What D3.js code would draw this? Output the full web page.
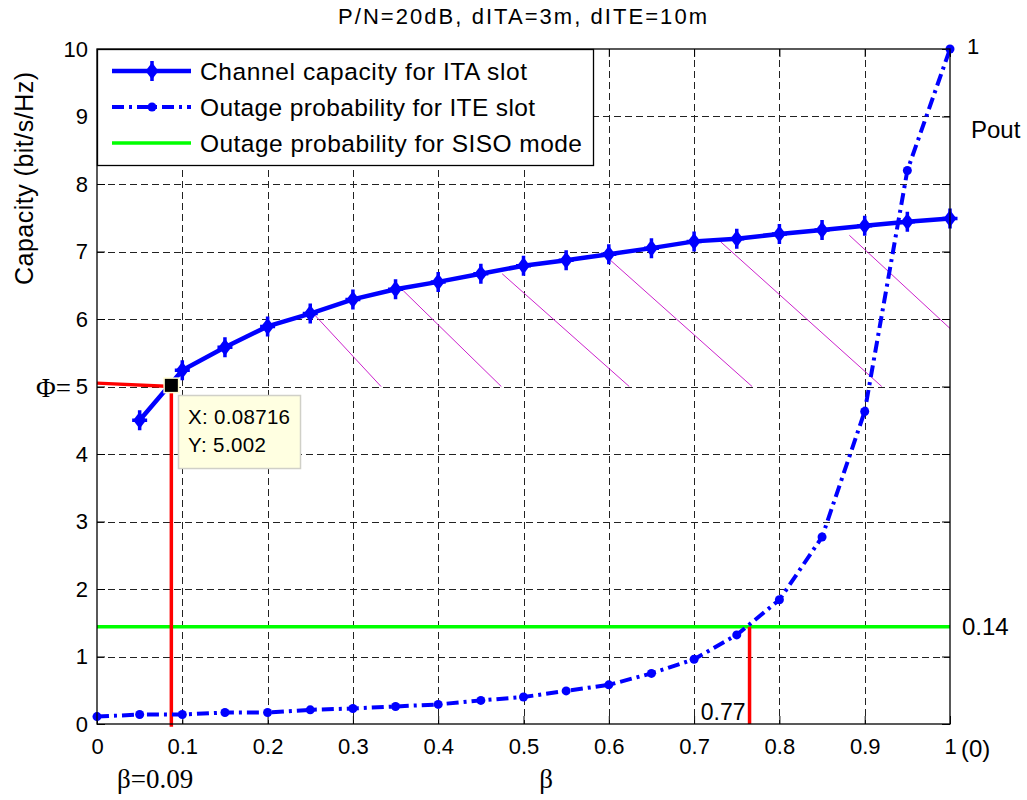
<!DOCTYPE html>
<html>
<head>
<meta charset="utf-8">
<script src="https://cdn.jsdelivr.net/npm/d3@7"></script>
<style>
  html, body { margin: 0; padding: 0; background: #fff; }
  svg { display: block; }
  text { font-family: "Liberation Sans", Arial, Helvetica, sans-serif; fill: #000; }
  .serif { font-family: "Liberation Serif", "Times New Roman", serif; }
</style>
</head>
<body>
<svg id="chart" width="1027" height="800"></svg>
<script>
// ---- data ----
const xTicks = [0, 0.1, 0.2, 0.3, 0.4, 0.5, 0.6, 0.7, 0.8, 0.9, 1];
const xTickLabels = ["0", "0.1", "0.2", "0.3", "0.4", "0.5", "0.6", "0.7", "0.8", "0.9", "1"];
const yTicks = [0, 1, 2, 3, 4, 5, 6, 7, 8, 9, 10];

// channel capacity in the ITA slot (bit/s/Hz)
const betaCap = [0.05, 0.1, 0.15, 0.2, 0.25, 0.3, 0.35, 0.4, 0.45, 0.5,
                 0.55, 0.6, 0.65, 0.7, 0.75, 0.8, 0.85, 0.9, 0.95, 1.0];
const capacity = [4.50, 5.24, 5.58, 5.89, 6.08, 6.29, 6.44, 6.55, 6.67, 6.79,
                  6.87, 6.96, 7.05, 7.15, 7.19, 7.26, 7.32, 7.38, 7.44, 7.49];

// outage probability in the ITE slot (right scale, 0..1)
const betaOut = [0, 0.05, 0.1, 0.15, 0.2, 0.25, 0.3, 0.35, 0.4, 0.45, 0.5,
                 0.55, 0.6, 0.65, 0.7, 0.75, 0.8, 0.85, 0.9, 0.95, 1.0];
const pout = [0.011, 0.014, 0.014, 0.017, 0.017, 0.021, 0.023, 0.026, 0.029, 0.035, 0.040,
              0.049, 0.058, 0.075, 0.096, 0.132, 0.184, 0.277, 0.463, 0.820, 1.0];

// outage probability for SISO mode
const poutSISO = 0.144;

// capacity threshold and the corresponding beta values
const phi = 5;
const tipX = 0.08716, tipY = 5.002;
const betaCross = 0.765;

// hatch segments (beta, capacity) start -> end
const hatchStartBeta = [0.253, 0.359, 0.475, 0.602, 0.731, 0.882];
const hatchStartCap  = [6.09, 6.42, 6.67, 6.87, 7.145, 7.24];
const hatchEndBeta   = [0.333, 0.474, 0.624, 0.768, 0.920, 1.0];
const hatchEndCap    = [5.0, 5.0, 5.0, 5.0, 5.0, 5.86];

const legendLabels = ["Channel capacity for ITA slot",
                      "Outage probability for ITE slot",
                      "Outage probability for SISO mode"];

// ---- layout ----
const svg = d3.select("#chart");
const L = 97, R = 950, T = 49, B = 724;
const x = d3.scaleLinear().domain([0, 1]).range([L, R]);
const y = d3.scaleLinear().domain([0, 10]).range([B, T]);
const yR = d3.scaleLinear().domain([0, 1]).range([B, T]);

svg.append("rect").attr("width", 1027).attr("height", 800).attr("fill", "#fff");

// grid
const grid = svg.append("g").attr("stroke", "#222").attr("stroke-width", 1)
  .attr("stroke-dasharray", "7,4").attr("fill", "none");
grid.selectAll("line.gx").data(xTicks.slice(1, -1)).join("line")
  .attr("x1", d => Math.round(x(d)) + 0.5).attr("x2", d => Math.round(x(d)) + 0.5)
  .attr("y1", T).attr("y2", B);
grid.selectAll("line.gy").data(yTicks.slice(1, -1)).join("line")
  .attr("y1", d => Math.round(y(d)) + 0.5).attr("y2", d => Math.round(y(d)) + 0.5)
  .attr("x1", L).attr("x2", R);

// axes
const fmt = (d) => xTickLabels[xTicks.indexOf(d)];
const axB = svg.append("g").attr("transform", `translate(0,${B})`)
  .call(d3.axisBottom(x).tickValues(xTicks).tickFormat(fmt).tickSizeInner(-8).tickSizeOuter(0).tickPadding(14));
const axT = svg.append("g").attr("transform", `translate(0,${T})`)
  .call(d3.axisTop(x).tickValues(xTicks).tickFormat("").tickSizeInner(-8).tickSizeOuter(0));
const axL = svg.append("g").attr("transform", `translate(${L},0)`)
  .call(d3.axisLeft(y).tickValues(yTicks).tickFormat(d3.format("d")).tickSizeInner(-8).tickSizeOuter(0).tickPadding(9));
const axR = svg.append("g").attr("transform", `translate(${R},0)`)
  .call(d3.axisRight(y).tickValues(yTicks).tickFormat("").tickSizeInner(-8).tickSizeOuter(0));
[axB, axT, axL, axR].forEach(g => {
  g.select(".domain").remove();
  g.selectAll("line").attr("stroke", "#000").attr("stroke-width", 1);
  g.selectAll("text").attr("font-size", 22).attr("fill", "#000")
    .attr("font-family", '"Liberation Sans", Arial, sans-serif');
});

// hatch lines
svg.append("g").selectAll("line").data(hatchStartBeta).join("line")
  .attr("x1", (d, i) => x(d)).attr("y1", (d, i) => y(hatchStartCap[i]))
  .attr("x2", (d, i) => x(hatchEndBeta[i])).attr("y2", (d, i) => y(hatchEndCap[i]))
  .attr("stroke", "#cc22cc").attr("stroke-width", 1);

// SISO outage level
svg.append("line").attr("x1", x(0)).attr("x2", x(1))
  .attr("y1", yR(poutSISO)).attr("y2", yR(poutSISO))
  .attr("stroke", "#00ff00").attr("stroke-width", 3.5);

// red guide lines
const red = svg.append("g").attr("stroke", "#ff0000").attr("stroke-width", 3.5).attr("fill", "none");
red.append("line").attr("x1", x(0)).attr("y1", y(phi + 0.05)).attr("x2", x(tipX)).attr("y2", y(phi));
red.append("line").attr("x1", x(tipX)).attr("y1", y(-0.04)).attr("x2", x(tipX)).attr("y2", y(phi));
red.append("line").attr("x1", x(betaCross)).attr("y1", yR(0)).attr("x2", x(betaCross)).attr("y2", yR(poutSISO));

// outage curve (dash-dot)
const outLine = d3.line().x((d, i) => x(betaOut[i])).y(d => yR(d));
svg.append("path").datum(pout).attr("d", outLine)
  .attr("fill", "none").attr("stroke", "#0000ff").attr("stroke-width", 4)
  .attr("stroke-dasharray", "12,5,3,5");
svg.append("g").selectAll("circle").data(pout).join("circle")
  .attr("cx", (d, i) => x(betaOut[i])).attr("cy", d => yR(d)).attr("r", 4.5)
  .attr("fill", "#0000ff");

// capacity curve
const capLine = d3.line().x((d, i) => x(betaCap[i])).y(d => y(d));
svg.append("path").datum(capacity).attr("d", capLine)
  .attr("fill", "none").attr("stroke", "#0000ff").attr("stroke-width", 4.5);

function capMarker(g, cx, cy) {
  const m = g.append("g").attr("transform", `translate(${cx},${cy})`);
  m.append("path").attr("d", "M0,-8.5L6.5,0L0,8.5L-6.5,0Z").attr("fill", "#0000ff");
  m.append("path").attr("d", "M0,-10V10M-7.5,0H7.5").attr("stroke", "#0000ff").attr("stroke-width", 3.5);
}
const capG = svg.append("g");
capacity.forEach((d, i) => capMarker(capG, x(betaCap[i]), y(d)));

// frame
svg.append("rect").attr("x", L).attr("y", T).attr("width", R - L).attr("height", B - T)
  .attr("fill", "none").attr("stroke", "#000").attr("stroke-width", 1.3);

// legend
const lg = svg.append("g");
lg.append("rect").attr("x", L + 0.5).attr("y", T + 0.5).attr("width", 496).attr("height", 116)
  .attr("fill", "#fff").attr("stroke", "#000").attr("stroke-width", 1.3);
const rowY = [71, 107, 143];
lg.append("line").attr("x1", 112).attr("x2", 191).attr("y1", rowY[0]).attr("y2", rowY[0])
  .attr("stroke", "#0000ff").attr("stroke-width", 4.5);
capMarker(lg, 152, rowY[0]);
lg.append("line").attr("x1", 112).attr("x2", 191).attr("y1", rowY[1]).attr("y2", rowY[1])
  .attr("stroke", "#0000ff").attr("stroke-width", 4).attr("stroke-dasharray", "12,5,3,5");
lg.append("circle").attr("cx", 152).attr("cy", rowY[1]).attr("r", 4.5).attr("fill", "#0000ff");
lg.append("line").attr("x1", 112).attr("x2", 191).attr("y1", rowY[2]).attr("y2", rowY[2])
  .attr("stroke", "#00ff00").attr("stroke-width", 3.5);
const legendWidths = [327, 335, 382];
lg.selectAll("text").data(legendLabels).join("text")
  .attr("x", 200).attr("y", (d, i) => rowY[i] + 9)
  .attr("font-size", 24.5).attr("textLength", (d, i) => legendWidths[i])
  .attr("lengthAdjust", "spacing").text(d => d);

// data tip
svg.append("rect").attr("x", x(tipX) - 8).attr("y", y(tipY) - 9).attr("width", 16).attr("height", 16)
  .attr("fill", "#fffbd0");
svg.append("rect").attr("x", x(tipX) - 6.5).attr("y", y(tipY) - 7.5).attr("width", 13).attr("height", 13)
  .attr("fill", "#000");
svg.append("rect").attr("x", 178.5).attr("y", 395.5).attr("width", 122).attr("height", 73)
  .attr("fill", "#ffffe1").attr("stroke", "#d0d0c8").attr("stroke-width", 1.5);
svg.append("text").attr("x", 188).attr("y", 424).attr("font-size", 20.5)
  .attr("textLength", 102).attr("lengthAdjust", "spacing").text("X: " + tipX);
svg.append("text").attr("x", 188).attr("y", 452).attr("font-size", 20.5)
  .attr("textLength", 78).attr("lengthAdjust", "spacing").text("Y: " + tipY.toFixed(3));

// title and axis labels
svg.append("text").attr("x", 338).attr("y", 24).attr("font-size", 22)
  .attr("textLength", 369).attr("lengthAdjust", "spacing")
  .text("P/N=20dB, dITA=3m, dITE=10m");
svg.append("text").attr("transform", "translate(33,178.5) rotate(-90)")
  .attr("text-anchor", "middle").attr("font-size", 25)
  .attr("textLength", 213).attr("lengthAdjust", "spacing").text("Capacity (bit/s/Hz)");
svg.append("text").attr("class", "serif").attr("x", 546).attr("y", 788)
  .attr("text-anchor", "middle").attr("font-size", 27).text("β");
svg.append("text").attr("class", "serif").attr("x", 117).attr("y", 788)
  .attr("font-size", 27).text("β=0.09");
svg.append("text").attr("class", "serif").attr("x", 36).attr("y", 397)
  .attr("font-size", 27).text("Φ=");

// right-side annotations for the outage scale
svg.append("text").attr("x", 967).attr("y", yR(1) + 5).attr("font-size", 22).text("1");
svg.append("text").attr("x", 971).attr("y", 138).attr("font-size", 24).text("Pout");
svg.append("text").attr("x", 962).attr("y", yR(poutSISO) + 8).attr("font-size", 24)
  .text(d3.format(".2f")(poutSISO));
svg.append("text").attr("x", 961).attr("y", 757).attr("font-size", 24).text("(0)");
svg.append("text").attr("x", x(betaCross) - 4).attr("y", 720).attr("text-anchor", "end")
  .attr("font-size", 23).text(d3.format(".2f")(betaCross));
</script>
</body>
</html>
